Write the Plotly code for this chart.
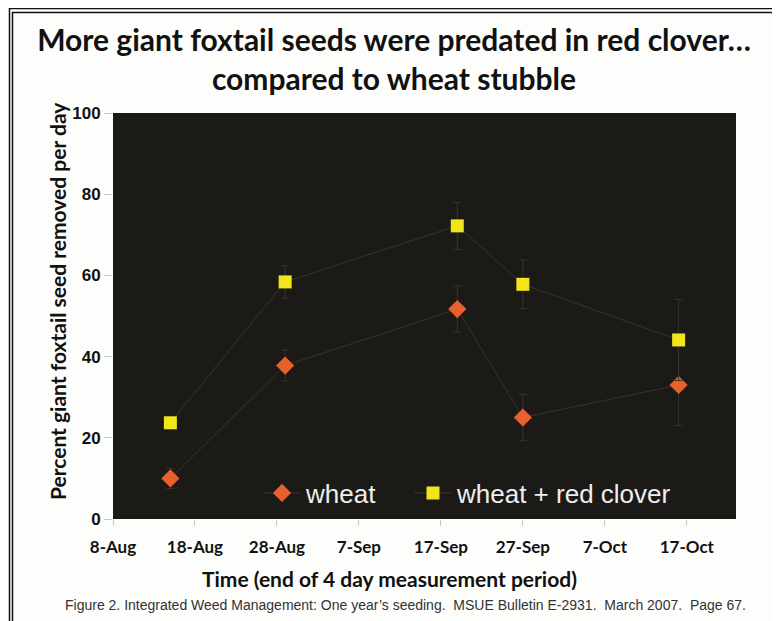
import plotly.graph_objects as go

dates = ["2006-08-15", "2006-08-29", "2006-09-19", "2006-09-27", "2006-10-16"]
wheat = [10.0, 37.8, 51.7, 25.0, 33.0]
wheat_err = [2.5, 3.8, 5.7, 5.7, 10.0]
clover = [23.7, 58.4, 72.2, 57.8, 44.1]
clover_err = [1.0, 4.0, 5.8, 6.0, 10.0]

title_text = "More giant foxtail seeds were predated in red clover…<br>compared to wheat stubble"
ytitle = "Percent giant foxtail seed removed per day"
xtitle = "Time (end of 4 day measurement period)"
caption = "Figure 2. Integrated Weed Management: One year’s seeding.  MSUE Bulletin E-2931.  March 2007.  Page 67."

# the page body adds an 8px offset; work in page pixels and convert
OFF = 8
W, H = 780 - OFF, 621 - OFF
L, R, T, B = 113, 736, 113, 519  # plot area in page pixels

def px(x):
    return (x - L) / (R - L)

def py(y):
    return (B - y) / (B - T)

fig = go.Figure()
fig.add_trace(go.Scatter(
    x=dates, y=wheat, name="wheat", mode="lines+markers", legend="legend",
    line=dict(color="#37342f", width=1),
    marker=dict(symbol="diamond", size=14, color="#e8602c"),
    error_y=dict(type="data", array=wheat_err, color="#37342f", thickness=1, width=4),
))
fig.add_trace(go.Scatter(
    x=dates, y=clover, name="wheat + red clover", mode="lines+markers", legend="legend2",
    line=dict(color="#37342f", width=1),
    marker=dict(symbol="square", size=13, color="#f2e51c"),
    error_y=dict(type="data", array=clover_err, color="#37342f", thickness=1, width=4),
))

shapes = []
shapes.append(dict(type="line", xref="paper", yref="paper", x0=px(9.5), x1=px(9.5),
                   y0=py(8), y1=py(640), line=dict(color="#111", width=1.5)))
shapes.append(dict(type="line", xref="paper", yref="paper", x0=px(12.5), x1=px(12.5),
                   y0=py(12), y1=py(640), line=dict(color="#111", width=1.5)))
shapes.append(dict(type="line", xref="paper", yref="paper", x0=px(9), x1=px(800),
                   y0=py(8.5), y1=py(8.5), line=dict(color="#111", width=1.5)))
shapes.append(dict(type="line", xref="paper", yref="paper", x0=px(12), x1=px(800),
                   y0=py(12.5), y1=py(12.5), line=dict(color="#111", width=1.5)))

leg_font = dict(family="Liberation Sans", size=26, color="#eeeeee")

fig.update_layout(
    width=W, height=H,
    margin=dict(l=L - OFF, r=780 - R, t=T - OFF, b=621 - B),
    paper_bgcolor="#fdfdfb",
    plot_bgcolor="#1c1a17",
    title=dict(text=title_text, x=0.5, xref="container", xanchor="center",
               y=1 - (51 - OFF) / H, yanchor="middle",
               font=dict(family="Lato", size=30, color="#111", weight="bold")),
    shapes=shapes,
    showlegend=True,
    legend=dict(orientation="h", x=px(258), y=py(493), xanchor="left", yanchor="middle",
                bgcolor="rgba(0,0,0,0)", font=leg_font, itemwidth=38),
    legend2=dict(orientation="h", x=px(409), y=py(493), xanchor="left", yanchor="middle",
                 bgcolor="rgba(0,0,0,0)", font=leg_font, itemwidth=38),
    xaxis=dict(
        type="date", range=["2006-08-08", "2006-10-23"],
        tick0="2006-08-08", dtick=10 * 86400000, tickformat="%-d-%b",
        showgrid=False, zeroline=False, showline=False,
        ticks="outside", ticklen=6, tickcolor="#c8c8c8", ticklabelstandoff=7,
        tickfont=dict(family="Lato", size=17, color="#111", weight="bold"),
    ),
    yaxis=dict(
        range=[0, 100], dtick=20,
        showgrid=False, zeroline=False, showline=False,
        ticks="outside", ticklen=8, tickcolor="#c8c8c8",
        tickfont=dict(family="Liberation Sans", size=17, color="#111", weight="bold"),
    ),
    annotations=[
        dict(text=caption, xref="paper", yref="paper", x=px(405), y=py(605),
             xanchor="center", yanchor="middle", showarrow=False,
             font=dict(family="Liberation Sans", size=14, color="#333")),
        dict(text=xtitle, xref="paper", yref="paper", x=px(389), y=py(578),
             xanchor="center", yanchor="middle", showarrow=False,
             font=dict(family="Lato", size=21, color="#111", weight="bold")),
        dict(text=ytitle, xref="paper", yref="paper", x=px(57), y=py(301),
             xanchor="center", yanchor="middle", showarrow=False, textangle=-90,
             font=dict(family="Lato", size=21, color="#111", weight="bold")),
    ],
)

fig.write_html("out.html")
